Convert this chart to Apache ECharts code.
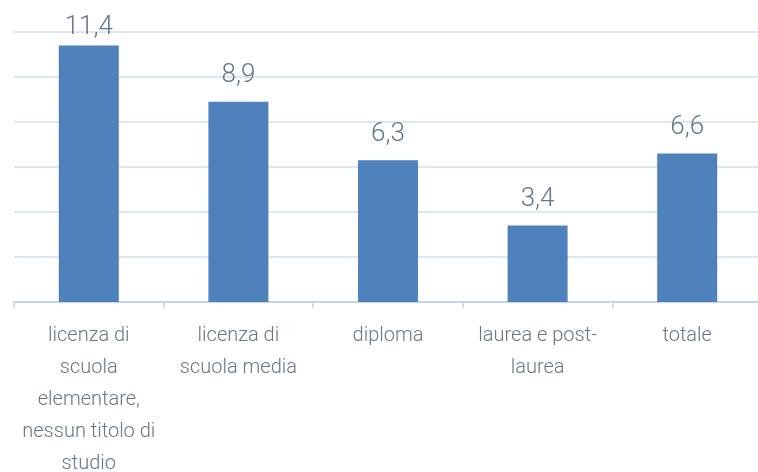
<!DOCTYPE html>
<html>
<head>
<meta charset="utf-8">
<script src="https://cdn.jsdelivr.net/npm/echarts@6/dist/echarts.min.js"></script>
<style>
html,body{margin:0;padding:0;background:#fff;}
#chart{width:758px;height:472px;}
</style>
</head>
<body>
<div id="chart"></div>
<script>
const categories = [
  "licenza di\nscuola\nelementare,\nnessun titolo di\nstudio",
  "licenza di\nscuola media",
  "diploma",
  "laurea e post-\nlaurea",
  "totale"
];
const values = [11.4, 8.9, 6.3, 3.4, 6.6];
const yTicks = { min: 0, max: 12, interval: 2 };

const chart = echarts.init(document.getElementById('chart'));
const fmt = v => String(v).replace('.', ',');
chart.setOption({
  animation: false,
  grid: { left: 14, top: 32, width: 748, height: 270, containLabel: false, outerBoundsMode: 'none' },
  xAxis: {
    type: 'category',
    data: categories,
    axisLine: { lineStyle: { color: '#c3d3e8', width: 2 } },
    axisTick: { show: true, length: 6, lineStyle: { color: '#c3d3e8', width: 1.5 } },
    axisLabel: {
      interval: 0,
      margin: 18,
      color: '#6a7585',
      fontFamily: 'Roboto',
      fontWeight: 300,
      fontSize: 20,
      lineHeight: 32,
      align: 'center'
    }
  },
  yAxis: {
    type: 'value',
    min: yTicks.min, max: yTicks.max, interval: yTicks.interval,
    axisLine: { show: false },
    axisTick: { show: false },
    axisLabel: { show: false },
    splitLine: { lineStyle: { color: '#dde7f3', width: 2 } }
  },
  series: [{
    type: 'bar',
    data: values.map((v, i) => i === 0 ? { value: v, label: { distance: 5 } } : v),
    barWidth: 60,
    itemStyle: { color: '#4f81bd' },
    label: {
      show: true,
      position: 'top',
      distance: 13,
      color: '#66758a',
      fontFamily: 'Roboto',
      fontWeight: 300,
      fontSize: 26,
      formatter: p => fmt(p.value)
    }
  }]
});
</script>
</body>
</html>
